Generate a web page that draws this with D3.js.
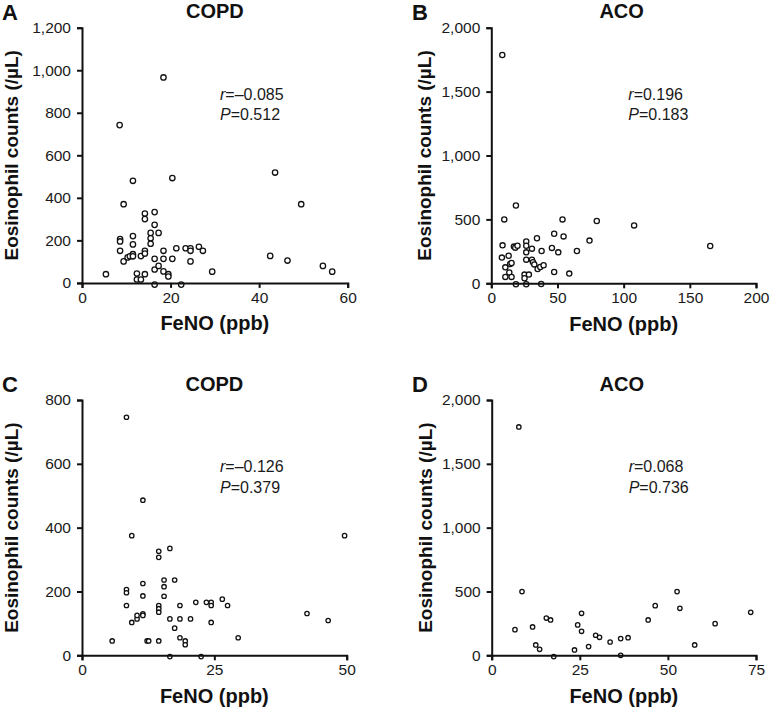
<!DOCTYPE html>
<html><head><meta charset="utf-8">
<script src="https://cdn.jsdelivr.net/npm/d3@7/dist/d3.min.js"></script>
<style>
html,body{margin:0;padding:0;background:#fff;}
svg{display:block;font-family:"Liberation Sans",Arial,sans-serif;}
</style></head>
<body><svg id="chart" width="770" height="711"></svg>
<script>
// ---------- DATA ----------
// Panel A: COPD, FeNO (ppb) vs eosinophil counts (/µL)
const copdA = [[18.4,966],[8.5,742],[43.6,519],[20.4,493],[11.5,480],[9.4,370],[49.5,370],
 [14.2,326],[16.4,333],[14.2,300],[16.4,273],[17.3,235],[15.5,235],[15.5,210],[15.5,184],
 [11.5,220],[11.5,181],[8.6,206],[8.6,195],[8.6,151],[9.4,101],[10.3,120],[10.8,125],
 [11.5,135],[11.5,125],[13.3,126],[14.2,151],[14.2,138],[5.4,41],[12.4,44],[12.4,16],
 [13.3,16],[14.2,41],[16.4,113],[16.4,63],[17.3,80],[18.4,151],[18.4,113],[18.4,54],
 [19.5,41],[19.5,30],[20.4,113],[21.3,163],[16.4,-8],[22.4,-8],[23.4,163],[24.5,163],
 [24.5,151],[24.5,101],[26.4,170],[27.3,151],[29.4,53],[42.5,127],[46.4,105],[54.4,80],[56.5,53]];
// Panel B: ACO
const acoB = [[8.3,1786],[18.6,609],[9.8,500],[53.8,500],[79.7,487],[107.9,453],[165.4,292],
 [8.5,297],[8.0,201],[13.1,216],[10.6,125],[14.3,151],[15.3,159],[17.1,287],[18.1,279],
 [19.8,294],[10.6,50],[13.6,84],[15.3,50],[18.6,-8],[26.4,328],[26.4,294],[26.4,242],
 [26.4,185],[25.1,68],[25.1,39],[28.4,68],[26.4,-8],[30.7,271],[30.7,185],[31.5,165],
 [32.5,148],[34.5,352],[35,112],[38,253],[37,128],[39.5,141],[37.7,-5],[45.8,277],
 [47.5,388],[54.6,367],[50.6,242],[47.5,89],[58.9,76],[64.7,253],[74.2,334]];
// Panel C: COPD (subset)
const copdC = [[8.4,746],[11.5,486],[9.4,375],[49.6,375],[14.5,326],[14.5,307],[16.6,335],
 [15.5,236],[17.5,236],[15.5,215],[11.5,225],[8.4,206],[8.4,196],[11.5,186],[15.5,185],
 [8.4,156],[14.5,156],[14.5,146],[14.5,135],[9.4,103],[10.4,114],[10.4,125],[11.5,130],
 [11.5,125],[5.7,45],[12.3,45],[12.6,45],[14.5,45],[16.6,114],[17.5,85],[18.5,156],
 [18.5,114],[18.5,55],[19.5,45],[19.5,33],[20.5,114],[21.5,166],[16.6,-4],[22.5,-4],
 [23.5,166],[24.4,166],[24.4,156],[24.4,103],[26.5,176],[27.5,156],[29.5,55],[42.5,131],[46.5,109]];
// Panel D: ACO (subset)
const acoD = [[7.7,1789],[8.6,499],[52.6,499],[46.4,389],[53.4,368],[25.5,329],[73.5,337],
 [44.4,277],[15.5,292],[16.7,277],[6.6,201],[11.6,222],[24.4,238],[25.5,188],[63.4,248],
 [29.5,157],[30.6,141],[33.6,104],[36.6,131],[38.7,138],[12.5,81],[13.6,47],[27.5,68],
 [23.5,42],[57.6,81],[17.6,-10],[36.6,0]];

const ticksAx = [0,20,40,60], ticksAy = [0,200,400,600,800,1000,1200];
const ticksBx = [0,50,100,150,200], ticksBy = [0,500,1000,1500,2000];
const ticksCx = [0,25,50], ticksCy = [0,200,400,600,800];
const ticksDx = [0,25,50,75], ticksDy = [0,500,1000,1500,2000];

const letters = ["A","B","C","D"];
const titles = ["COPD","ACO","COPD","ACO"];
const rTexts = ["\u20130.085","0.196","\u20130.126","0.068"];
const pTexts = ["0.512","0.183","0.379","0.736"];
const xLabel = "FeNO (ppb)";
const yLabel = "Eosinophil counts (/\u00b5L)";

// ---------- LAYOUT ----------
const svg = d3.select("#chart");
const fmt = d3.format(",");
const panels = [
 {data:copdA, xd:[0,60], yd:[0,1200], xt:ticksAx, yt:ticksAy, l:82, r:347.7, t:27.7, b:282.9, rad:2.7},
 {data:acoB, xd:[0,200], yd:[0,2000], xt:ticksBx, yt:ticksBy, l:491.3, r:756, t:27.7, b:283.3, rad:2.6},
 {data:copdC, xd:[0,50], yd:[0,800], xt:ticksCx, yt:ticksCy, l:82, r:346.7, t:400, b:655.3, rad:2.2},
 {data:acoD, xd:[0,75], yd:[0,2000], xt:ticksDx, yt:ticksDy, l:491.7, r:756, t:400, b:655.3, rad:2.2}
];

panels.forEach((p,i)=>{
  const x = d3.scaleLinear().domain(p.xd).range([p.l,p.r]);
  const y = d3.scaleLinear().domain(p.yd).range([p.b,p.t]);
  const g = svg.append("g");

  // points
  g.append("g").selectAll("circle").data(p.data).join("circle")
    .attr("cx",d=>x(d[0])).attr("cy",d=>y(d[1])).attr("r",p.rad)
    .attr("fill","#fff").attr("stroke","#111").attr("stroke-width",1.3);

  const xa = g.append("g").attr("transform",`translate(0,${p.b})`)
    .call(d3.axisBottom(x).tickValues(p.xt).tickFormat(fmt).tickSizeOuter(0).tickSize(5).tickPadding(4));
  const ya = g.append("g").attr("transform",`translate(${p.l},0)`)
    .call(d3.axisLeft(y).tickValues(p.yt).tickFormat(fmt).tickSizeOuter(0).tickSize(5).tickPadding(6));
  [xa,ya].forEach(a=>{
    a.select(".domain").attr("stroke","#111").attr("stroke-width",2);
    a.selectAll(".tick line").attr("stroke","#111").attr("stroke-width",2);
    a.selectAll(".tick text").attr("fill","#1a1a1a").style("font-size","15.5px")
      .style("font-family","'Liberation Sans',Arial,sans-serif");
  });

  const cx = (p.l+p.r)/2 - (i%2===0?0:2);
  // panel letter
  g.append("text").attr("x",(i%2===0?2:412)).attr("y",p.t-8)
    .attr("font-size",22).attr("font-weight","bold").attr("fill","#111").text(letters[i]);
  // title
  g.append("text").attr("x",cx).attr("y",p.t-9.5).attr("text-anchor","middle")
    .attr("font-size",20).attr("font-weight","bold").attr("fill","#111").text(titles[i]);
  // x label
  g.append("text").attr("x",(p.l+p.r)/2).attr("y",p.b+47.5).attr("text-anchor","middle")
    .attr("font-size",20).attr("font-weight","bold").attr("fill","#111").text(xLabel);
  // y label
  const yo = i%2===0 ? 64 : 60;
  g.append("text").attr("transform",`translate(${p.l-yo},${(p.t+p.b)/2}) rotate(-90)`)
    .attr("text-anchor","middle").attr("font-size",19).attr("font-weight","bold").attr("fill","#111").text(yLabel);
  // stats
  const sx = p.l + (i%2===0?138:137);
  const st = g.append("text").attr("x",sx).attr("y",p.t+72.3).attr("font-size",16).attr("fill","#1a1a1a");
  st.append("tspan").attr("font-style","italic").text("r");
  st.append("tspan").text("="+rTexts[i]);
  const sp = g.append("text").attr("x",sx).attr("y",p.t+92.5).attr("font-size",16).attr("fill","#1a1a1a");
  sp.append("tspan").attr("font-style","italic").text("P");
  sp.append("tspan").text("="+pTexts[i]);
});
</script></body></html>
